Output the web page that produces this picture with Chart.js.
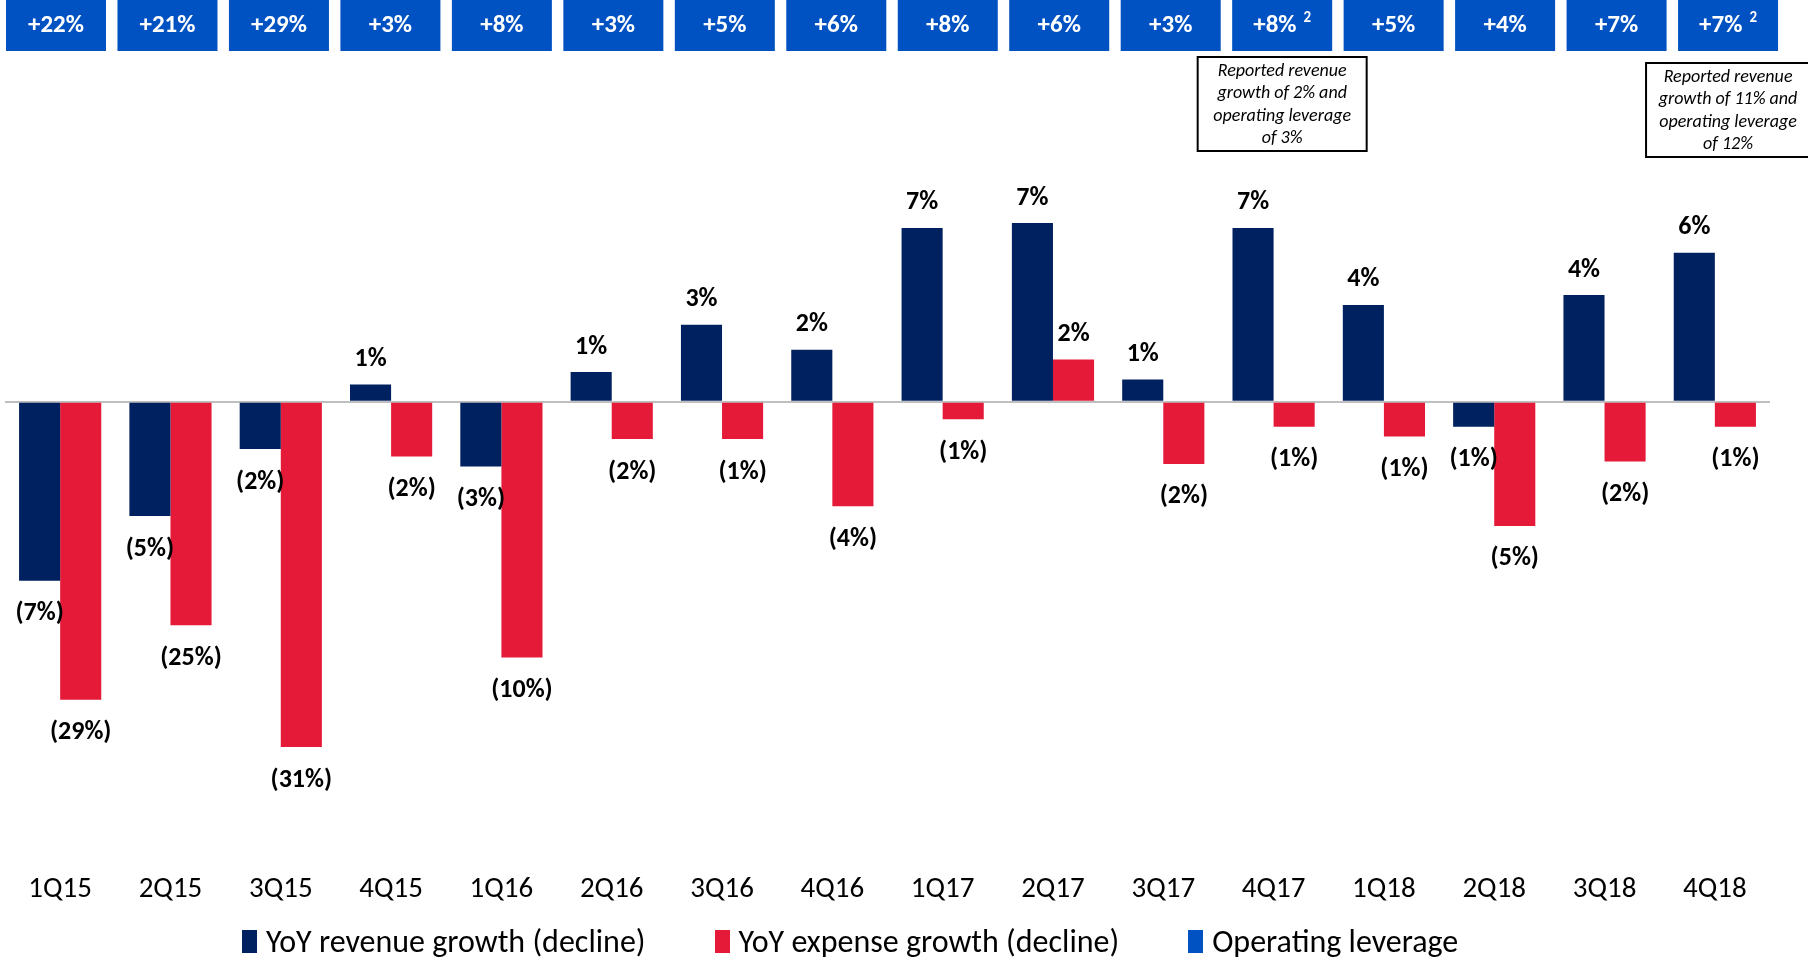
<!DOCTYPE html>
<html>
<head>
<meta charset="utf-8">
<script src="https://cdn.jsdelivr.net/npm/chart.js@4.4.1/dist/chart.umd.min.js"></script>
<style>
  html, body { margin: 0; padding: 0; background: #fff; }
  #wrap { position: relative; width: 1808px; height: 958px; }
  #legend {
    position: absolute; left: 242px; top: 922px; display: flex; align-items: center;
    font-family: Carlito, 'Liberation Sans', Arial, sans-serif; font-size: 32px; color: #000;
  }
  #legend .item { display: flex; align-items: center; margin-right: 69px; white-space: nowrap; }
  #legend .swatch { width: 15px; height: 23px; margin-right: 9px; }
</style>
</head>
<body>
<div id="wrap">
  <canvas id="leverageChart" width="1808" height="958"></canvas>
  <div id="legend"></div>
</div>
<script>
// Quarterly revenue vs expense growth, with operating leverage on top

const quarters = ['1Q15','2Q15','3Q15','4Q15','1Q16','2Q16','3Q16','4Q16',
                  '1Q17','2Q17','3Q17','4Q17','1Q18','2Q18','3Q18','4Q18'];

// YoY revenue growth (%), as drawn
const revenue = [-7.2, -4.6, -1.9, 0.7, -2.6, 1.2, 3.1, 2.1,
                 7.0, 7.2, 0.9, 7.0, 3.9, -1.0, 4.3, 6.0];

// YoY expense growth (%), as drawn (the three deep bars are cut short in the original)
const expense = [-12.0, -9.0, -13.9, -2.2, -10.3, -1.5, -1.5, -4.2,
                 -0.7, 1.7, -2.5, -1.0, -1.4, -5.0, -2.4, -1.0];

// expense growth as printed on the bars
const expenseReported = [-29, -25, -31, -2, -10, -2, -1, -4,
                         -1, 2, -2, -1, -1, -5, -2, -1];

// operating leverage boxes along the top
const leverage = ['+22%','+21%','+29%','+3%','+8%','+3%','+5%','+6%',
                  '+8%','+6%','+3%','+8%','+5%','+4%','+7%','+7%'];
const leverageNote = ['','','','','','','','','','','','2','','','','2'];

const notes = [
  { quarter: '4Q17', lines: ['Reported revenue', 'growth of 2% and', 'operating leverage', 'of 3%'] },
  { quarter: '4Q18', lines: ['Reported revenue', 'growth of 11% and', 'operating leverage', 'of 12%'] },
];

const NAVY = '#00215F';
const RED = '#E41A38';
const BLUE = '#0052C2';
const FONT = "Carlito, 'Liberation Sans', Arial, sans-serif";

const pct = v => v < 0 ? '(' + Math.abs(v) + '%)' : v + '%';

// value labels above / below each bar
const barLabels = {
  id: 'barLabels',
  afterDatasetsDraw(chart) {
    const ctx = chart.ctx;
    ctx.save();
    ctx.font = 'bold 26px ' + FONT;
    ctx.fillStyle = '#000';
    ctx.textAlign = 'center';
    ctx.textBaseline = 'middle';
    [0, 1].forEach(di => {
      const meta = chart.getDatasetMeta(di);
      meta.data.forEach((bar, i) => {
        const v = chart.data.datasets[di].data[i];
        const shown = di === 0 ? Math.round(v) : expenseReported[i];
        const y = v >= 0 ? bar.y - 25 : bar.y + 33;
        ctx.fillText(pct(shown), bar.x, y);
      });
    });
    ctx.restore();
  }
};

// blue operating leverage boxes and the two note boxes
const topBoxes = {
  id: 'topBoxes',
  afterDraw(chart) {
    const ctx = chart.ctx;
    const boxW = 100, boxH = 51, pitch = 111.47, left0 = 6;
    const centers = [];
    ctx.save();
    leverage.forEach((txt, i) => {
      const x = left0 + i * pitch;
      centers.push(x + boxW / 2);
      ctx.fillStyle = BLUE;
      ctx.fillRect(x, 0, boxW, boxH);
      ctx.fillStyle = '#fff';
      ctx.textBaseline = 'middle';
      ctx.font = 'bold 25px ' + FONT;
      const w = ctx.measureText(txt).width;
      let supW = 0;
      if (leverageNote[i]) {
        ctx.font = 'bold 15px ' + FONT;
        supW = 7 + ctx.measureText(leverageNote[i]).width;
      }
      const start = x + boxW / 2 - (w + supW) / 2;
      ctx.textAlign = 'left';
      ctx.font = 'bold 25px ' + FONT;
      ctx.fillText(txt, start, 26);
      if (leverageNote[i]) {
        ctx.font = 'bold 15px ' + FONT;
        ctx.fillText(leverageNote[i], start + w + 7, 18);
      }
    });

    const noteGeom = [{ w: 169, top: 57 }, { w: 164, top: 63 }];
    notes.forEach((n, k) => {
      const i = quarters.indexOf(n.quarter);
      const cx = centers[i];
      const g = noteGeom[k];
      const h = 94;
      ctx.fillStyle = '#fff';
      ctx.fillRect(cx - g.w / 2, g.top, g.w, h);
      ctx.strokeStyle = '#000';
      ctx.lineWidth = 2;
      ctx.strokeRect(cx - g.w / 2, g.top, g.w, h);
      ctx.fillStyle = '#000';
      ctx.textAlign = 'center';
      ctx.font = 'italic 18px ' + FONT;
      n.lines.forEach((line, j) => ctx.fillText(line, cx, g.top + 14 + j * 22.5));
    });
    ctx.restore();
  }
};

const chart = new Chart(document.getElementById('leverageChart'), {
  type: 'bar',
  data: {
    labels: quarters,
    datasets: [
      { label: 'YoY revenue growth (decline)', data: revenue, backgroundColor: NAVY },
      { label: 'YoY expense growth (decline)', data: expense, backgroundColor: RED },
    ]
  },
  options: {
    responsive: false,
    animation: false,
    devicePixelRatio: 1,
    categoryPercentage: 0.745,
    barPercentage: 1.0,
    layout: { padding: { top: 153.5, bottom: 45.5, left: 5, right: 38 } },
    plugins: {
      legend: { display: false },
      tooltip: { enabled: false }
    },
    scales: {
      x: {
        grid: { display: false, drawTicks: false },
        border: { display: false },
        ticks: { color: '#000', font: { family: FONT, size: 29 }, padding: 5, maxRotation: 0 }
      },
      y: {
        min: -18.76,
        max: 10,
        border: { display: false },
        ticks: { display: false, stepSize: 1 },
        grid: {
          drawTicks: false,
          lineWidth: 2,
          color: c => c.tick && c.tick.value === 0 ? '#BFBFBF' : 'rgba(0,0,0,0)'
        }
      }
    }
  },
  plugins: [barLabels, topBoxes]
});

// legend below the chart
const legendItems = chart.data.datasets.map(d => ({ text: d.label, color: d.backgroundColor }))
  .concat([{ text: 'Operating leverage', color: BLUE }]);
document.getElementById('legend').innerHTML = legendItems.map(it =>
  '<div class="item"><span class="swatch" style="background:' + it.color + '"></span>' + it.text + '</div>'
).join('');
</script>
</body>
</html>
